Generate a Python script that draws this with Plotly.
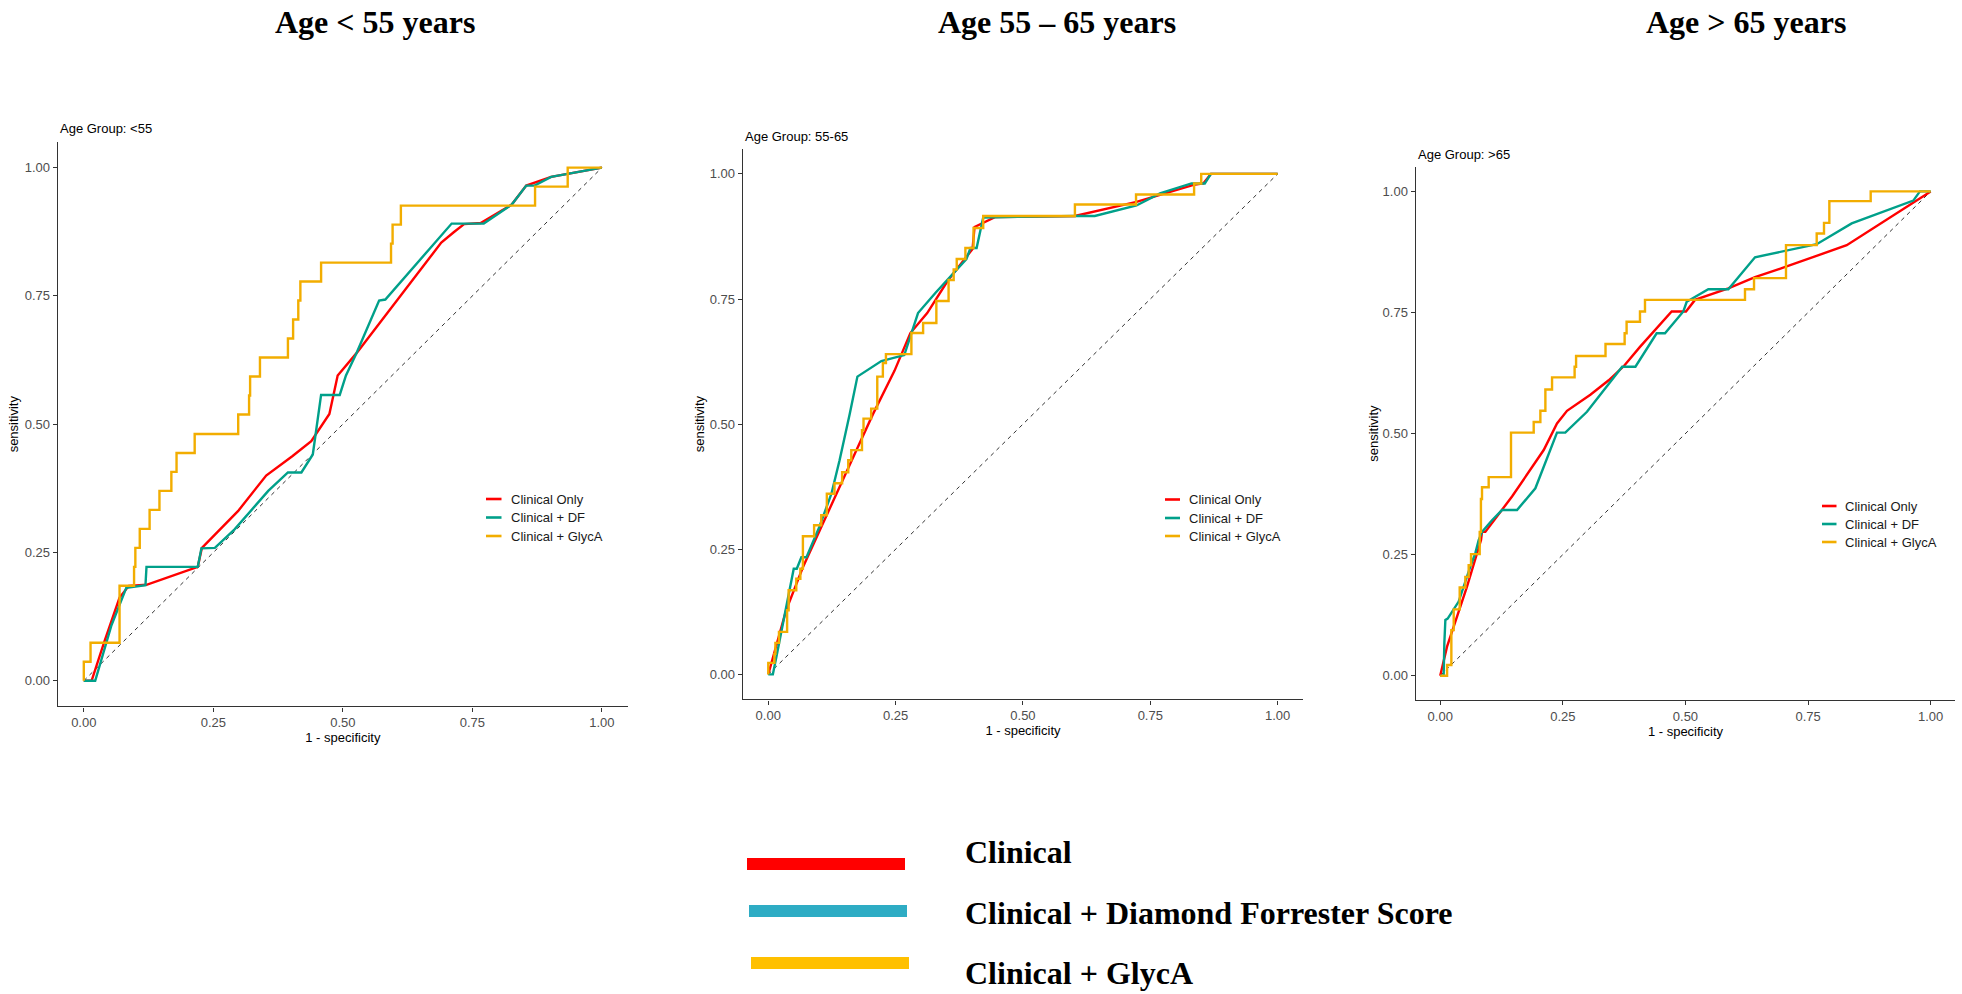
import plotly.graph_objects as go

W, H = 1962, 994

# ---------------- text ----------------
panel_titles = ["Age < 55 years", "Age 55 \u2013 65 years", "Age > 65 years"]
group_labels = ["Age Group: <55", "Age Group: 55-65", "Age Group: >65"]
series_names = ["Clinical Only", "Clinical + DF", "Clinical + GlycA"]
legend_names = ["Clinical", "Clinical + Diamond Forrester Score", "Clinical + GlycA"]
tick_vals = [0, 0.25, 0.5, 0.75, 1.0]
tick_text = ["0.00", "0.25", "0.50", "0.75", "1.00"]

# ---------------- data: 1 - specificity (x) / sensitivity (y) ----------------
# Age < 55
lt55_clin_x = [0, 0.015, 0.040, 0.069, 0.087, 0.121, 0.220, 0.228, 0.298, 0.352, 0.403, 0.439,
               0.474, 0.490, 0.526, 0.690, 0.714, 0.734, 0.766, 0.826, 0.854, 0.902, 1.0]
lt55_clin_y = [0, 0, 0.077, 0.162, 0.185, 0.187, 0.222, 0.259, 0.331, 0.400, 0.438, 0.467,
               0.520, 0.595, 0.638, 0.854, 0.874, 0.890, 0.892, 0.928, 0.965, 0.982, 1.0]
lt55_df_x = [0, 0.022, 0.053, 0.082, 0.119, 0.121, 0.220, 0.227, 0.253, 0.291, 0.356, 0.394, 0.420,
             0.442, 0.458, 0.494, 0.506, 0.526, 0.570, 0.582, 0.710, 0.772, 0.826, 0.854, 0.870, 0.902, 1.0]
lt55_df_y = [0, 0, 0.107, 0.181, 0.186, 0.222, 0.222, 0.258, 0.259, 0.295, 0.370, 0.406, 0.406,
             0.441, 0.557, 0.557, 0.595, 0.638, 0.741, 0.743, 0.891, 0.891, 0.928, 0.965, 0.965, 0.982, 1.0]
lt55_glyca_x = [0, 0, 0.013, 0.069, 0.097, 0.0995, 0.108, 0.127, 0.146, 0.169, 0.179, 0.214, 0.298, 0.319,
                0.321, 0.340, 0.394, 0.404, 0.414, 0.418, 0.458, 0.593, 0.596, 0.612, 0.871, 0.934, 1.0]
lt55_glyca_y = [0, 0.037, 0.074, 0.185, 0.222, 0.259, 0.296, 0.333, 0.370, 0.407, 0.444, 0.481, 0.519, 0.556,
                0.593, 0.630, 0.667, 0.704, 0.741, 0.778, 0.815, 0.852, 0.889, 0.926, 0.963, 1.0, 1.0]

# Age 55 - 65
mid_clin_x = [0, 0.035, 0.068, 0.114, 0.173, 0.206, 0.248, 0.279, 0.312, 0.352, 0.385, 0.401, 0.405,
              0.422, 0.446, 0.602, 0.723, 0.835, 0.854, 0.869, 1.0]
mid_clin_y = [0, 0.128, 0.214, 0.318, 0.448, 0.521, 0.607, 0.682, 0.722, 0.786, 0.830, 0.850, 0.894,
              0.902, 0.914, 0.916, 0.944, 0.978, 0.981, 1.0, 1.0]
mid_df_x = [0, 0.009, 0.016, 0.042, 0.050, 0.056, 0.065, 0.075, 0.100, 0.124, 0.140, 0.160, 0.175, 0.222,
            0.267, 0.294, 0.328, 0.389, 0.397, 0.409, 0.414, 0.422, 0.602, 0.641, 0.723, 0.769, 0.831,
            0.857, 0.869, 1.0]
mid_df_y = [0, 0, 0.035, 0.168, 0.211, 0.211, 0.234, 0.234, 0.294, 0.361, 0.428, 0.521, 0.595, 0.626,
            0.638, 0.722, 0.762, 0.830, 0.852, 0.852, 0.874, 0.913, 0.916, 0.916, 0.937, 0.961, 0.981,
            0.981, 1.0, 1.0]
mid_glyca_x = [0, 0, 0.012, 0.014, 0.021, 0.037, 0.040, 0.055, 0.063, 0.068, 0.090, 0.104, 0.115, 0.130,
               0.145, 0.157, 0.163, 0.184, 0.187, 0.202, 0.214, 0.225, 0.231, 0.281, 0.304, 0.330, 0.354,
               0.364, 0.370, 0.387, 0.403, 0.422, 0.602, 0.722, 0.836, 0.850, 1.0]
mid_glyca_y = [0, 0.023, 0.041, 0.063, 0.085, 0.128, 0.168, 0.191, 0.211, 0.276, 0.298, 0.318, 0.361, 0.382,
               0.404, 0.428, 0.448, 0.488, 0.511, 0.531, 0.595, 0.622, 0.640, 0.682, 0.702, 0.746, 0.788,
               0.809, 0.830, 0.852, 0.892, 0.916, 0.939, 0.959, 0.981, 1.0, 1.0]

# Age > 65
gt65_clin_x = [0, 0.0139, 0.0546, 0.0832, 0.0852, 0.092, 0.1464, 0.211, 0.2381, 0.2585, 0.3061, 0.3435,
               0.375, 0.4073, 0.4719, 0.5011, 0.5195, 0.5874, 0.6418, 0.7064, 0.8288, 1.0]
gt65_clin_y = [0, 0.060, 0.184, 0.280, 0.297, 0.297, 0.370, 0.466, 0.521, 0.547, 0.580, 0.610,
               0.640, 0.679, 0.752, 0.752, 0.776, 0.800, 0.823, 0.845, 0.889, 1.0]
gt65_df_x = [0, 0.007, 0.0084, 0.0105, 0.0152, 0.0275, 0.0376, 0.0614, 0.0716, 0.0784, 0.0852, 0.1056,
             0.126, 0.1566, 0.194, 0.2381, 0.255, 0.2992, 0.3503, 0.371, 0.398, 0.4413, 0.4583, 0.4957,
             0.5025, 0.5466, 0.5874, 0.6418, 0.7676, 0.839, 0.9646, 0.978, 1.0]
gt65_df_y = [0, 0, 0.067, 0.115, 0.118, 0.136, 0.153, 0.225, 0.253, 0.280, 0.297, 0.321,
             0.342, 0.342, 0.387, 0.502, 0.502, 0.545, 0.610, 0.638, 0.638, 0.707, 0.707, 0.752,
             0.772, 0.798, 0.798, 0.864, 0.891, 0.934, 0.981, 1.0, 1.0]
gt65_glyca_x = [0, 0.014, 0.0227, 0.0275, 0.0397, 0.0512, 0.058, 0.0628, 0.0805, 0.083, 0.0852, 0.0988,
                0.1443, 0.1906, 0.2042, 0.2144, 0.228, 0.274, 0.277, 0.337, 0.376, 0.380, 0.4073, 0.4175,
                0.6214, 0.6398, 0.705, 0.7676, 0.7825, 0.7934, 0.8777, 1.0]
gt65_glyca_y = [0, 0.022, 0.094, 0.137, 0.182, 0.204, 0.228, 0.251, 0.297, 0.365, 0.389, 0.410,
                0.502, 0.524, 0.547, 0.591, 0.616, 0.638, 0.660, 0.685, 0.707, 0.731, 0.752, 0.776,
                0.798, 0.821, 0.889, 0.913, 0.935, 0.980, 1.0, 1.0]

panels = [
    [(lt55_clin_x, lt55_clin_y), (lt55_df_x, lt55_df_y), (lt55_glyca_x, lt55_glyca_y)],
    [(mid_clin_x, mid_clin_y), (mid_df_x, mid_df_y), (mid_glyca_x, mid_glyca_y)],
    [(gt65_clin_x, gt65_clin_y), (gt65_df_x, gt65_df_y), (gt65_glyca_x, gt65_glyca_y)],
]

# ---------------- styles ----------------
curve_colors = ["#FF0000", "#00A08A", "#F2AD00"]
curve_shapes = ["linear", "linear", "hv"]
key_colors = ["#FF0000", "#2EACC4", "#FFC000"]
SANS = "Liberation Sans, Arial, sans-serif"
SERIF = "Liberation Serif, Times New Roman, serif"


def px(x):
    return x / W


def py(y):
    return 1 - y / H


# plot-area boxes in pixels (left, right, top, bottom) for the -0.05..1.05 ranges
boxes = [(57.9, 627.8, 142.0, 706.4), (742.8, 1303.1, 148.9, 699.4), (1415.7, 1955.2, 167.2, 699.9)]
title_cx = [375, 1057, 1746]
group_label_y = [128.5, 136, 154]
ytitle_standoff = [3, 2, 1]
legend_pos = [(486, 501.5, 508.5, [499, 517.5, 536]),
              (1165, 1180, 1186.5, [499.5, 518, 536]),
              (1822, 1836.5, 1843, [506, 524, 542])]

fig = go.Figure()
annotations = []
shapes = []

for i, series in enumerate(panels):
    xa = "x" if i == 0 else f"x{i+1}"
    ya = "y" if i == 0 else f"y{i+1}"
    # chance line
    fig.add_trace(go.Scatter(x=[0, 1], y=[0, 1], mode="lines", xaxis=xa, yaxis=ya,
                             line=dict(color="#333333", width=1, dash="4px,4px"),
                             showlegend=False, hoverinfo="skip"))
    for k, (sx, sy) in enumerate(series):
        fig.add_trace(go.Scatter(x=sx, y=sy, mode="lines", name=series_names[k], xaxis=xa, yaxis=ya,
                                 line=dict(color=curve_colors[k], width=2.4, shape=curve_shapes[k]),
                                 showlegend=False))

    l, r, t, b = boxes[i]
    axis_common = dict(range=[-0.05, 1.05], tickmode="array", tickvals=tick_vals, ticktext=tick_text,
                       showgrid=False, zeroline=False, showline=True, linecolor="#333333", linewidth=1.4,
                       ticks="outside", ticklen=4, tickwidth=1.2, tickcolor="#333333",
                       tickfont=dict(family=SANS, size=13, color="#4D4D4D"))
    xkey = "xaxis" if i == 0 else f"xaxis{i+1}"
    ykey = "yaxis" if i == 0 else f"yaxis{i+1}"
    fig.layout[xkey] = dict(axis_common, domain=[px(l), px(r)], anchor=ya,
                            title=dict(text="1 - specificity", standoff=2,
                                       font=dict(family=SANS, size=13, color="#000000")))
    fig.layout[ykey] = dict(axis_common, domain=[py(b), py(t)], anchor=xa,
                            title=dict(text="sensitivity", standoff=ytitle_standoff[i],
                                       font=dict(family=SANS, size=13, color="#000000")))

    # big panel title
    annotations.append(dict(text=f"<b>{panel_titles[i]}</b>", xref="paper", yref="paper",
                            x=px(title_cx[i]), y=py(22.5), xanchor="center", yanchor="middle",
                            showarrow=False, font=dict(family=SERIF, size=32, color="#000000")))
    # facet label
    annotations.append(dict(text=group_labels[i], xref="paper", yref="paper",
                            x=px(l), y=py(group_label_y[i]), xanchor="left", yanchor="middle",
                            showarrow=False, font=dict(family=SANS, size=13, color="#000000")))
    # in-panel legend
    kx0, kx1, tx, rows = legend_pos[i]
    for k in range(3):
        shapes.append(dict(type="line", xref="paper", yref="paper", x0=px(kx0), x1=px(kx1),
                           y0=py(rows[k]), y1=py(rows[k]), line=dict(color=curve_colors[k], width=2.6)))
        annotations.append(dict(text=series_names[k], xref="paper", yref="paper", x=px(tx), y=py(rows[k]),
                                xanchor="left", yanchor="middle", showarrow=False,
                                font=dict(family=SANS, size=13, color="#1A1A1A")))

# bottom shared legend
key_boxes = [(747, 905, 858, 870), (749, 907, 905, 917), (751, 909, 957, 969)]
text_y = [852, 913, 973]
for k in range(3):
    x0, x1, y0, y1 = key_boxes[k]
    shapes.append(dict(type="rect", xref="paper", yref="paper", x0=px(x0), x1=px(x1),
                       y0=py(y1), y1=py(y0), fillcolor=key_colors[k], line=dict(width=0)))
    annotations.append(dict(text=f"<b>{legend_names[k]}</b>", xref="paper", yref="paper",
                            x=px(963), y=py(text_y[k]), xanchor="left", yanchor="middle",
                            showarrow=False, font=dict(family=SERIF, size=32, color="#000000")))

fig.update_layout(width=W, height=H, margin=dict(l=0, r=0, t=0, b=0),
                  paper_bgcolor="white", plot_bgcolor="white",
                  annotations=annotations, shapes=shapes, showlegend=False)

fig.write_html("out.html", include_plotlyjs=True, config={"displayModeBar": False},
               post_script="document.body.style.margin='0';document.body.style.overflow='hidden';")
